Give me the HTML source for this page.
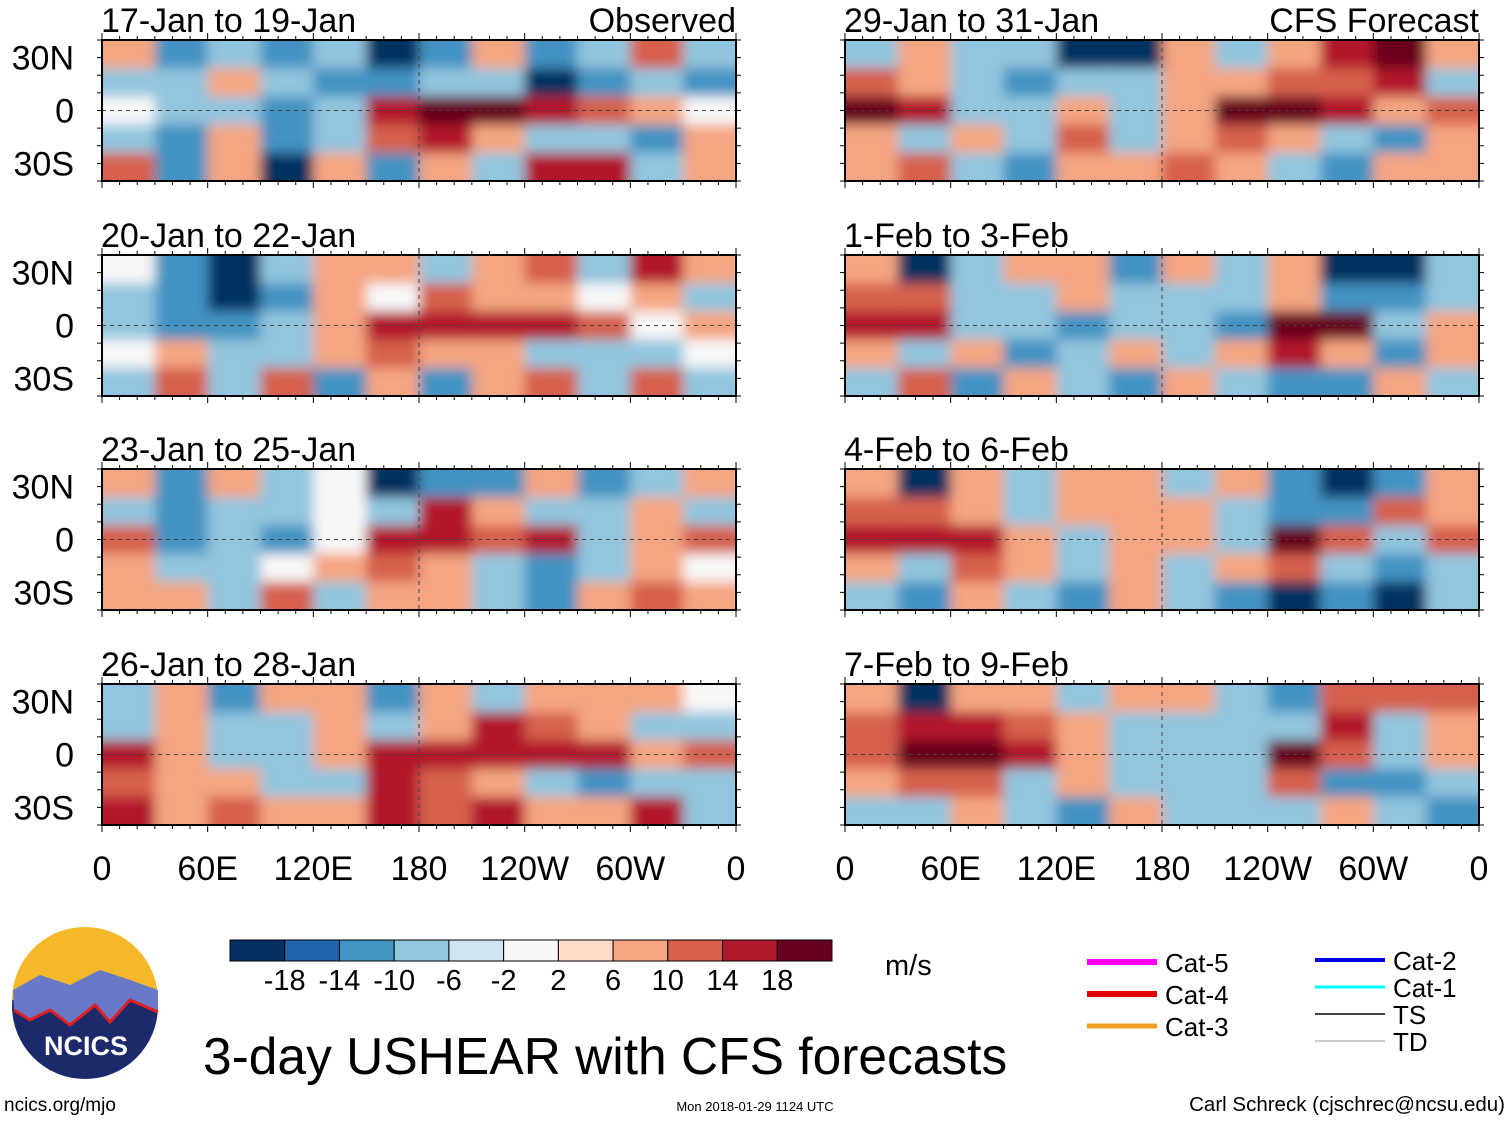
<!DOCTYPE html>
<html><head><meta charset="utf-8"><style>
body{margin:0;background:#fff;font-family:"Liberation Sans",sans-serif}
svg text{font-family:"Liberation Sans",sans-serif}
</style></head><body>
<svg id="s" width="1510" height="1121" viewBox="0 0 1510 1121" xmlns="http://www.w3.org/2000/svg">
<defs><filter id="bl" x="-5%" y="-10%" width="110%" height="120%"><feGaussianBlur stdDeviation="6"/></filter></defs>
</svg>
<script>
const levels=[-18,-14,-10,-6,-2,2,6,10,14,18];
const colors=["#053061","#2166ac","#4393c3","#92c5de","#d1e5f0","#f7f7f7","#fddbc7","#f4a582","#d6604d","#b2182b","#67001f"];
const titles=["17-Jan to 19-Jan","20-Jan to 22-Jan","23-Jan to 25-Jan","26-Jan to 28-Jan","29-Jan to 31-Jan","1-Feb to 3-Feb","4-Feb to 6-Feb","7-Feb to 9-Feb"];
const xTicks=["0","60E","120E","180","120W","60W","0"];
const yTicks=["30N","0","30S"];
const field1=[[7,-13,-7,-13,-7,-18,-13,7,-13,-7,13,-7],[-7,-7,7,-7,-13,-13,-7,-7,-18,-13,-7,-13],[0,-7,-7,-13,-7,18,24,24,18,13,7,0],[-7,-13,7,-13,-7,13,18,7,-7,-7,-13,7],[13,-13,7,-18,7,-13,7,-7,18,18,-7,7]];
const field2=[[0,-13,-24,-7,7,7,-7,7,13,-7,18,7],[-7,-13,-18,-13,7,0,13,7,7,0,7,-7],[-7,-13,-13,-7,7,18,18,18,18,13,0,7],[0,7,-7,-7,7,13,7,7,-7,-7,-7,0],[-7,13,-7,13,-13,7,-13,7,13,-7,13,-7]];
const field3=[[7,-13,7,-7,0,-18,-13,-13,7,-13,-7,7],[-7,-13,-7,-7,0,-7,18,7,-7,-7,7,-7],[13,-13,-7,-13,0,18,18,13,18,-7,7,13],[7,-7,-7,0,7,13,7,-7,-13,-7,7,0],[7,7,-7,13,-7,7,7,-7,-13,7,13,7]];
const field4=[[-7,7,-13,7,7,-13,7,-7,7,7,7,0],[-7,7,-7,-7,7,-7,7,18,13,7,-7,-7],[18,7,-7,-7,7,18,18,18,18,18,7,13],[13,7,7,-7,-7,18,13,7,-7,-13,-7,-7],[18,7,13,7,7,18,13,18,7,7,18,-7]];
const field5=[[-7,7,-7,-7,-18,-24,7,-7,7,18,24,7],[13,7,-7,-13,-7,-7,7,7,13,13,18,-7],[24,18,-7,-7,7,-7,7,24,24,18,7,13],[7,-7,7,-7,13,-7,7,13,7,-7,-13,7],[7,13,-7,-13,7,7,13,7,-7,-13,7,7]];
const field6=[[7,-18,-7,7,7,-13,7,-7,7,-18,-18,-7],[13,13,-7,-7,7,-7,-7,-7,7,-13,-13,-7],[18,18,-7,-7,-13,-7,-7,-13,24,24,-7,7],[7,-7,7,-13,-7,7,-7,7,18,7,-13,7],[-7,13,-13,7,-7,-13,7,-7,-13,-13,7,-7]];
const field7=[[7,-24,7,-7,7,7,-7,7,-13,-18,-13,7],[13,13,7,-7,7,7,7,-7,-13,-13,13,7],[18,18,18,7,-7,7,7,-7,24,13,-7,13],[7,-7,13,7,-7,7,-7,7,13,-7,-13,-7],[-7,-13,7,-7,-13,7,-7,-13,-18,-13,-18,-7]];
const field8=[[7,-24,7,7,-7,7,7,-7,-13,13,13,13],[13,18,18,13,7,-7,-7,-7,-7,18,-7,7],[13,24,24,18,7,-7,-7,-7,24,13,-7,7],[7,13,13,-7,7,-7,-7,-7,13,-13,-13,-7],[-7,-7,7,-7,-13,7,-7,-7,-7,7,-7,-13]];
const fields=[field1,field2,field3,field4,field5,field6,field7,field8];
const legendNames=["Cat-5","Cat-4","Cat-3","Cat-2","Cat-1","TS","TD"];

const NS="http://www.w3.org/2000/svg",S=document.getElementById('s');
function el(t,a,p){const e=document.createElementNS(NS,t);for(const k in a)e.setAttribute(k,a[k]);(p||S).appendChild(e);return e;}
function colorFor(v){let i=0;while(i<levels.length&&v>levels[i])i++;return colors[i];}
const panelX=[102,845],panelY=[40,255,469,684],PW=634,PH=141;
fields.forEach((f,pi)=>{
  const x0=panelX[pi<4?0:1],y0=panelY[pi%4];
  const g=el('g',{});
  
  
  const cp=el('clipPath',{id:'c'+pi},S);el('rect',{x:x0,y:y0,width:PW,height:PH},cp);
  const inner=el('g',{'clip-path':'url(#c'+pi+')'},g);
  const hg=el('g',{filter:'url(#bl)'},inner);
  const rows=f.length,cols=f[0].length,cw=PW/cols,ch=PH/rows;
  f.forEach((r,ri)=>r.forEach((v,ci)=>{
    const c=el('rect',{x:x0+ci*cw-(ci==0?20:0),y:y0+ri*ch-(ri==0?20:0),width:cw+1+(ci==0||ci==cols-1?20:0),height:ch+1+(ri==0||ri==rows-1?20:0),fill:colorFor(v)},hg);
    
    
  }));
  el('line',{x1:x0,x2:x0+PW,y1:y0+PH/2,y2:y0+PH/2,stroke:'#444','stroke-dasharray':'4,4','stroke-width':1},g);
  el('line',{x1:x0+PW/2,x2:x0+PW/2,y1:y0,y2:y0+PH,stroke:'#444','stroke-dasharray':'4,4','stroke-width':1},g);
  el('rect',{x:x0,y:y0,width:PW,height:PH,fill:'none',stroke:'#000','stroke-width':2},g);
  for(let k=0;k<=36;k++){const tx=x0+k*PW/36,l=k%6==0?7:4;el('line',{x1:tx,x2:tx,y1:y0,y2:y0-l,stroke:'#000'},g);el('line',{x1:tx,x2:tx,y1:y0+PH,y2:y0+PH+l,stroke:'#000'},g);}
  for(let k=0;k<=8;k++){const ty=y0+k*PH/8;el('line',{x1:x0,x2:x0-5,y1:ty,y2:ty,stroke:'#000'},g);el('line',{x1:x0+PW,x2:x0+PW+5,y1:ty,y2:ty,stroke:'#000'},g);}
  const t=el('text',{x:x0-1,y:y0-8,'font-size':34},g);t.textContent=titles[pi];
  
  if(pi==0){const o=el('text',{x:x0+PW,y:y0-8,'font-size':34,'text-anchor':'end'},g);o.textContent='Observed';}
  if(pi==4){const o=el('text',{x:x0+PW,y:y0-8,'font-size':34,'text-anchor':'end'},g);o.textContent='CFS Forecast';}
  if(pi<4) yTicks.forEach((yt,k)=>{const yy=el('text',{x:74,y:y0+PH/2+(k-1)*53+12,'font-size':34,'text-anchor':'end'},g);yy.textContent=yt;
    });
  if(pi%4==3) xTicks.forEach((xt,k)=>{const xx=el('text',{x:x0+k*PW/6,y:880,'font-size':34,'text-anchor':'middle'},g);xx.textContent=xt;
    });
});
// colorbar
const cb=el('g',{});
const bw=602/colors.length;
colors.forEach((c,i)=>el('rect',{x:230+i*bw,y:940,width:bw,height:21,fill:c,stroke:'#000','stroke-width':1},cb));
levels.forEach((l,i)=>{const t=el('text',{x:230+(i+1)*bw,y:990,'font-size':29,'text-anchor':'middle'},cb);t.textContent=l;});
const mu=el('text',{x:885,y:975,'font-size':29},cb);mu.textContent='m/s';
// legend
const lg=el('g',{});
const lc=[["#ff00ff",6],["#e00000",6],["#f0a020",5],["#0000ee",4],["#00ffff",3],["#444",2],["#999",1]];
legendNames.forEach((n,i)=>{const left=i<3,xx=left?1087:1315,yy=left?962+i*32:960+(i-3)*27;
  el('line',{x1:xx,x2:xx+70,y1:yy,y2:yy,stroke:lc[i][0],'stroke-width':lc[i][1]},lg);
  const t=el('text',{x:xx+78,y:yy+10,'font-size':26},lg);t.textContent=n;});
// logo
const lo=el('g',{});
el('circle',{cx:85,cy:1006,r:73,fill:'#1c2a6b'},lo);
el('path',{d:'M12,1000 A73,73 0 0 1 158,1000 Z',fill:'#f5b82a'},lo);
el('path',{d:'M13,990 L40,975 L70,985 L100,970 L130,980 L158,990 L158,1012 L130,1000 L110,1022 L95,1005 L70,1025 L50,1010 L30,1020 L14,1010 Z',fill:'#6a78c8'},lo);
el('path',{d:'M14,1010 L30,1020 L50,1010 L70,1025 L95,1005 L110,1022 L130,1000 L158,1012',fill:'none',stroke:'#e02020','stroke-width':3},lo);
const nt=el('text',{x:86,y:1055,'font-size':27,'font-weight':'bold',fill:'#fff','text-anchor':'middle'},lo);nt.textContent='NCICS';
const mt=el('text',{x:203,y:1074,'font-size':51.5});mt.textContent='3-day USHEAR with CFS forecasts';

const f1=el('text',{x:4,y:1111,'font-size':19});f1.textContent='ncics.org/mjo';

const f2=el('text',{x:755,y:1111,'font-size':13,'text-anchor':'middle'});f2.textContent='Mon 2018-01-29 1124 UTC';

const f3=el('text',{x:1505,y:1111,'font-size':20.5,'text-anchor':'end'});f3.textContent='Carl Schreck (cjschrec@ncsu.edu)';

</script>
</body></html>
